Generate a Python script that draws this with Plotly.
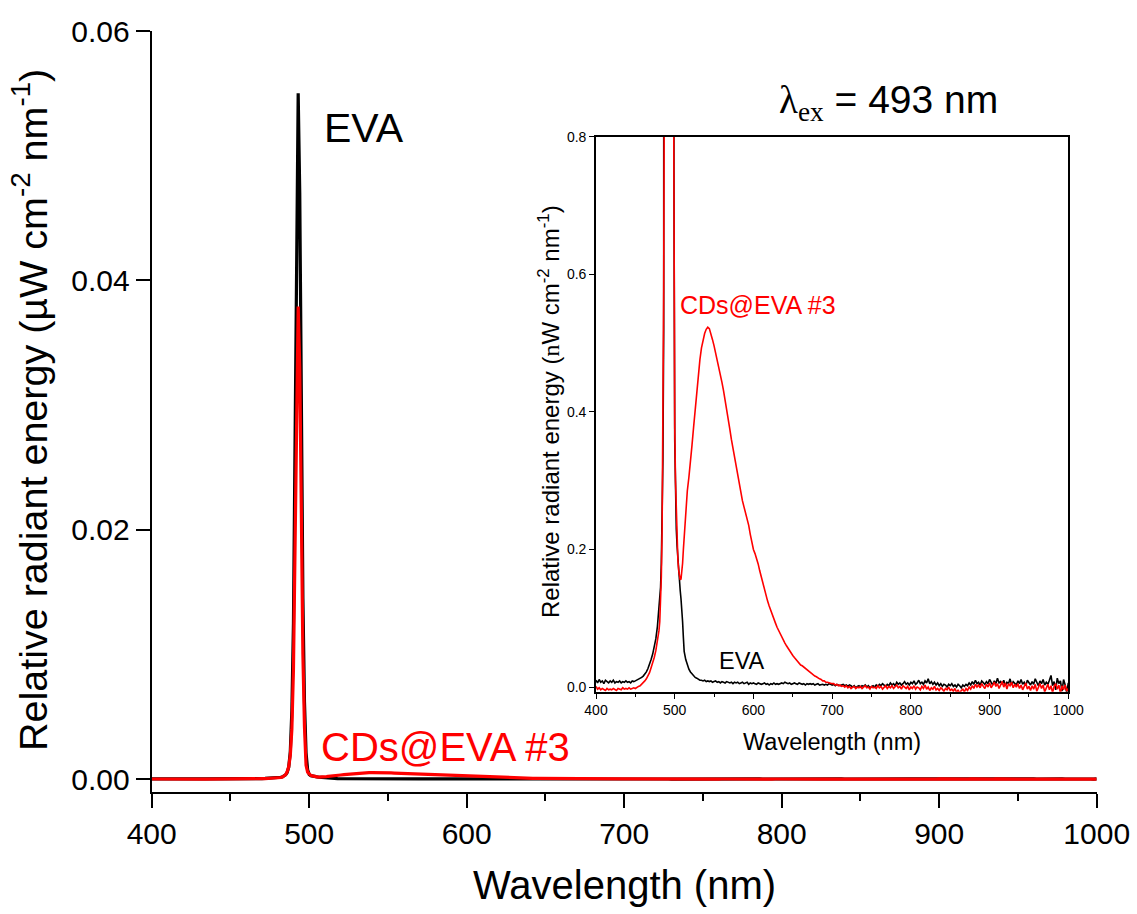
import plotly.graph_objects as go

# Wavelength grid (nm): coarse on the baseline, 1 nm across the excitation peak
wl = list(range(400, 479, 2)) + list(range(479, 513, 1)) + list(range(514, 1001, 2))

# EVA film, relative radiant energy in nW cm^-2 nm^-1
eva_nw = [
    0.010, 0.006, 0.011, 0.007, 0.009, 0.005, 0.010, 0.008, 0.006, 0.009,
    0.007, 0.010, 0.006, 0.008, 0.007, 0.009, 0.006, 0.008, 0.007, 0.009,
    0.007, 0.008, 0.006, 0.009, 0.008, 0.009, 0.010, 0.011, 0.012, 0.014,
    0.016, 0.019, 0.022, 0.027, 0.033, 0.040, 0.048, 0.058, 0.070, 0.088,
    # 479 .. 512
    0.10, 0.11, 0.122, 0.145, 0.18, 0.24, 0.33, 0.52, 0.95, 2.2,
    5.5, 12.5, 27.0, 45.0, 55.0, 47.0, 30.0, 14.5, 6.2, 2.1,
    0.75, 0.36, 0.27, 0.23, 0.205, 0.185, 0.168, 0.152, 0.14, 0.128,
    0.115, 0.095, 0.072, 0.052,
    # 514 .. 1000
    0.040, 0.032, 0.026, 0.022, 0.019, 0.016, 0.014, 0.013, 0.011, 0.010,
    0.010, 0.009, 0.010, 0.008, 0.009, 0.008, 0.009, 0.007, 0.008, 0.009,
    0.007, 0.008, 0.006, 0.008, 0.007, 0.006, 0.008, 0.007, 0.006, 0.007,
    0.005, 0.007, 0.006, 0.007, 0.005, 0.006, 0.007, 0.005, 0.006, 0.007,
    0.004, 0.006, 0.005, 0.006, 0.005, 0.004, 0.006, 0.005, 0.004, 0.005,
    0.006, 0.004, 0.005, 0.003, 0.005, 0.004, 0.006, 0.004, 0.005, 0.004,
    0.005, 0.006, 0.005, 0.007, 0.006, 0.005, 0.006, 0.004, 0.005, 0.006,
    0.005, 0.004, 0.006, 0.005, 0.004, 0.005, 0.003, 0.005, 0.004, 0.005,
    0.004, 0.005, 0.003, 0.004, 0.005, 0.003, 0.004, 0.004, 0.003, 0.004,
    0.003, 0.005, 0.004, 0.003, 0.004, 0.002, 0.004, 0.003, 0.002, 0.003,
    0.004, 0.002, 0.003, 0.001, 0.003, 0.002, 0.000, 0.002, -0.001, 0.001,
    0.002, 0.000, 0.002, 0.001, 0.003, 0.000, 0.002, -0.001, 0.001, 0.002,
    0.000, 0.003, 0.001, 0.004, 0.002, 0.005, 0.003, 0.001, 0.004, 0.002,
    0.006, 0.003, 0.005, 0.002, 0.007, 0.004, 0.006, 0.003, 0.005, 0.008,
    0.004, 0.006, 0.003, 0.007, 0.005, 0.009, 0.004, 0.006, 0.010, 0.005,
    0.007, 0.004, 0.009, 0.006, 0.012, 0.005, 0.008, 0.004, 0.007, 0.003,
    0.006, 0.002, 0.005, 0.001, 0.004, 0.003, 0.000, 0.004, 0.002, 0.005,
    0.001, 0.003, 0.000, 0.004, 0.002, -0.001, 0.003, 0.001, 0.004, 0.002,
    0.006, 0.003, 0.008, 0.004, 0.010, 0.005, 0.007, 0.003, 0.009, 0.006,
    0.004, 0.008, 0.005, 0.011, 0.006, 0.003, 0.009, 0.005, 0.013, 0.006,
    0.008, 0.004, 0.010, 0.002, 0.007, 0.005, 0.012, 0.003, 0.008, 0.006,
    0.003, 0.009, 0.005, 0.011, 0.004, 0.007, 0.002, 0.010, 0.006, 0.003,
    0.008, 0.004, 0.012, 0.006, 0.002, 0.009, 0.005, 0.011, 0.003, 0.007,
    0.004, 0.010, 0.017, 0.002, 0.008, -0.004, 0.013, 0.005, 0.009, -0.006,
    0.011, 0.003, -0.008, 0.006,
]

# CDs@EVA #3 film, relative radiant energy in nW cm^-2 nm^-1
cds_nw = [
    0.001, -0.003, -0.001, -0.004, -0.002, -0.003, -0.005, -0.002, -0.004, -0.003,
    -0.004, -0.002, -0.003, -0.005, -0.002, -0.003, -0.004, -0.001, -0.003, -0.002,
    -0.003, -0.001, -0.003, -0.002, -0.001, -0.002, 0.000, 0.001, 0.002, 0.004,
    0.006, 0.009, 0.012, 0.016, 0.021, 0.028, 0.035, 0.043, 0.053, 0.065,
    # 479 .. 512
    0.072, 0.082, 0.095, 0.12, 0.16, 0.23, 0.35, 0.58, 0.98, 1.9,
    4.0, 8.8, 19.0, 31.0, 37.9, 33.0, 21.0, 10.0, 4.2, 1.1,
    0.55, 0.38, 0.30, 0.25, 0.21, 0.185, 0.17, 0.16, 0.156, 0.157,
    0.165, 0.18, 0.20, 0.22,
    # 514 .. 1000
    0.26, 0.285, 0.305, 0.325, 0.352, 0.378, 0.404, 0.43, 0.455, 0.476,
    0.493, 0.505, 0.514, 0.52, 0.523, 0.521, 0.514, 0.505, 0.496, 0.486,
    0.476, 0.466, 0.455, 0.443, 0.431, 0.418, 0.405, 0.39, 0.375, 0.36,
    0.347, 0.333, 0.318, 0.305, 0.293, 0.282, 0.271, 0.262, 0.254, 0.246,
    0.235, 0.222, 0.21, 0.2, 0.194, 0.188, 0.179, 0.169, 0.16, 0.15,
    0.14, 0.133, 0.125, 0.118, 0.111, 0.104, 0.098, 0.093, 0.087, 0.082,
    0.078, 0.073, 0.069, 0.064, 0.06, 0.056, 0.052, 0.049, 0.046, 0.043,
    0.04, 0.037, 0.035, 0.032, 0.031, 0.029, 0.027, 0.026, 0.024, 0.022,
    0.019, 0.018, 0.016, 0.015, 0.013, 0.012, 0.011, 0.009, 0.009, 0.007,
    0.007, 0.006, 0.006, 0.005, 0.005, 0.003, 0.004, 0.002, 0.003, 0.001,
    0.002, 0.000, 0.002, -0.001, 0.001, -0.002, 0.000, 0.001, -0.002, 0.000,
    -0.001, 0.001, -0.002, 0.000, 0.002, -0.001, 0.000, -0.003, 0.001, -0.001,
    0.000, -0.002, 0.002, -0.001, 0.001, -0.003, 0.000, 0.002, -0.002, 0.001,
    -0.001, 0.002, -0.002, 0.000, 0.003, -0.001, 0.001, -0.003, 0.002, 0.000,
    -0.002, 0.001, -0.004, 0.000, -0.002, 0.002, -0.003, 0.000, -0.001, -0.004,
    0.001, -0.002, 0.003, -0.003, 0.000, -0.005, -0.001, -0.003, 0.001, -0.004,
    -0.002, -0.005, -0.001, -0.003, -0.006, -0.002, -0.004, 0.000, -0.005, -0.003,
    -0.006, -0.002, -0.008, -0.004, -0.009, -0.005, -0.003, -0.007, -0.002, -0.005,
    0.000, -0.003, 0.002, -0.002, 0.004, 0.000, 0.003, -0.001, 0.005, 0.001,
    -0.002, 0.004, 0.000, 0.006, -0.001, 0.003, 0.007, 0.001, 0.005, -0.002,
    0.004, 0.008, 0.000, 0.006, -0.003, 0.005, 0.002, 0.007, -0.001, 0.004,
    0.000, 0.005, -0.002, 0.003, -0.004, 0.002, 0.006, -0.003, 0.001, -0.005,
    0.002, -0.003, 0.004, -0.006, 0.001, 0.005, -0.002, 0.003, -0.007, 0.000,
    0.004, -0.004, 0.002, -0.008, 0.001, 0.005, -0.003, 0.003, -0.009, 0.002,
    -0.004, 0.003, -0.006, -0.002,
]

# Main panel is in µW cm^-2 nm^-1
eva_uw = [v / 1000.0 for v in eva_nw]
cds_uw = [v / 1000.0 for v in cds_nw]

main_yticks = [0.0, 0.02, 0.04, 0.06]
inset_yticks = [0.0, 0.2, 0.4, 0.6, 0.8]
xticks = [400, 500, 600, 700, 800, 900, 1000]

SANS = "Liberation Sans, Arial, sans-serif"
SERIF = "Liberation Serif, Times New Roman, serif"
RED = "#ff0000"
W, H = 1137, 914

fig = go.Figure()
fig.add_trace(go.Scatter(x=wl, y=eva_uw, mode="lines", line=dict(color="black", width=3.2),
                         xaxis="x", yaxis="y", showlegend=False))
fig.add_trace(go.Scatter(x=wl, y=cds_uw, mode="lines", line=dict(color=RED, width=3.2),
                         xaxis="x", yaxis="y", showlegend=False))
fig.add_trace(go.Scatter(x=wl, y=eva_nw, mode="lines", line=dict(color="black", width=1.6),
                         xaxis="x2", yaxis="y2", showlegend=False))
fig.add_trace(go.Scatter(x=wl, y=cds_nw, mode="lines", line=dict(color=RED, width=1.6),
                         xaxis="x2", yaxis="y2", showlegend=False))


def px_x(p):
    return p / W


def px_y(p):
    return 1 - p / H


axis_common = dict(showline=True, linecolor="black", ticks="outside", tickcolor="black",
                   showgrid=False, zeroline=False, color="black", automargin=False)

fig.update_layout(
    template="none",
    width=W, height=H, autosize=False,
    margin=dict(l=0, r=0, t=0, b=0, pad=0),
    paper_bgcolor="white", plot_bgcolor="white",
    font=dict(family=SANS, color="black"),
    xaxis=dict(**axis_common, domain=[px_x(151.7), px_x(1096.7)], range=[400, 1000],
               tickvals=xticks, linewidth=2.2, tickwidth=2.2, ticklen=14,
               tickfont=dict(size=30, family=SANS),
               minor=dict(ticks="outside", dtick=50, ticklen=7, tickwidth=2.2, tickcolor="black"),
               anchor="y"),
    yaxis=dict(**axis_common, domain=[px_y(792), px_y(31)], range=[-0.00104, 0.06],
               tickvals=main_yticks, tickformat=".2f", linewidth=2.2, tickwidth=2.2, ticklen=14,
               tickfont=dict(size=30, family=SANS), anchor="x"),
    xaxis2=dict(**axis_common, domain=[px_x(596), px_x(1068.3)], range=[400, 1000],
                tickvals=xticks, linewidth=1.6, tickwidth=1.4, ticklen=5, mirror=True,
                tickfont=dict(size=14, family=SANS),
                minor=dict(ticks="outside", dtick=50, ticklen=3, tickwidth=1.2, tickcolor="black"),
                anchor="y2"),
    yaxis2=dict(**axis_common, domain=[px_y(691.7), px_y(136.7)], range=[-0.0067, 0.8],
                tickvals=inset_yticks, tickformat=".1f", linewidth=1.6, tickwidth=1.4, ticklen=5,
                mirror=True, tickfont=dict(size=14, family=SANS), anchor="x2"),
)

annotations = [
    # main axis titles
    dict(text="Wavelength (nm)", x=px_x(624), y=px_y(885), font=dict(size=40)),
    dict(text="Relative radiant energy (µW cm<sup>-2</sup> nm<sup>-1</sup>)", x=px_x(30), y=px_y(410),
         textangle=-90, font=dict(size=39.5)),
    # main curve labels
    dict(text="EVA", x=px_x(322), y=px_y(128), xanchor="left", font=dict(size=41)),
    dict(text="CDs@EVA #3", x=px_x(319), y=px_y(747), xanchor="left", font=dict(size=40, color=RED)),
    dict(text=f"<span style='font-family:{SERIF}'>λ<sub>ex</sub></span> = 493 nm",
         x=px_x(777), y=px_y(103), xanchor="left", font=dict(size=39)),
    # inset titles and labels
    dict(text="Wavelength (nm)", x=px_x(832), y=px_y(742), font=dict(size=23.5)),
    dict(text=f"Relative radiant energy (<span style='font-family:{SERIF}'>n</span>W cm<sup>-2</sup> nm<sup>-1</sup>)",
         x=px_x(549), y=px_y(412), textangle=-90, font=dict(size=24)),
    dict(text="CDs@EVA #3", x=px_x(678), y=px_y(305), xanchor="left", font=dict(size=25, color=RED)),
    dict(text="EVA", x=px_x(717), y=px_y(661), xanchor="left", font=dict(size=23.5)),
]
for a in annotations:
    a.setdefault("xanchor", "center")
    a.update(xref="paper", yref="paper", yanchor="middle", showarrow=False)
    a["font"].setdefault("family", SANS)
    a["font"].setdefault("color", "black")
fig.update_layout(annotations=annotations)

fig.write_html("out.html")
